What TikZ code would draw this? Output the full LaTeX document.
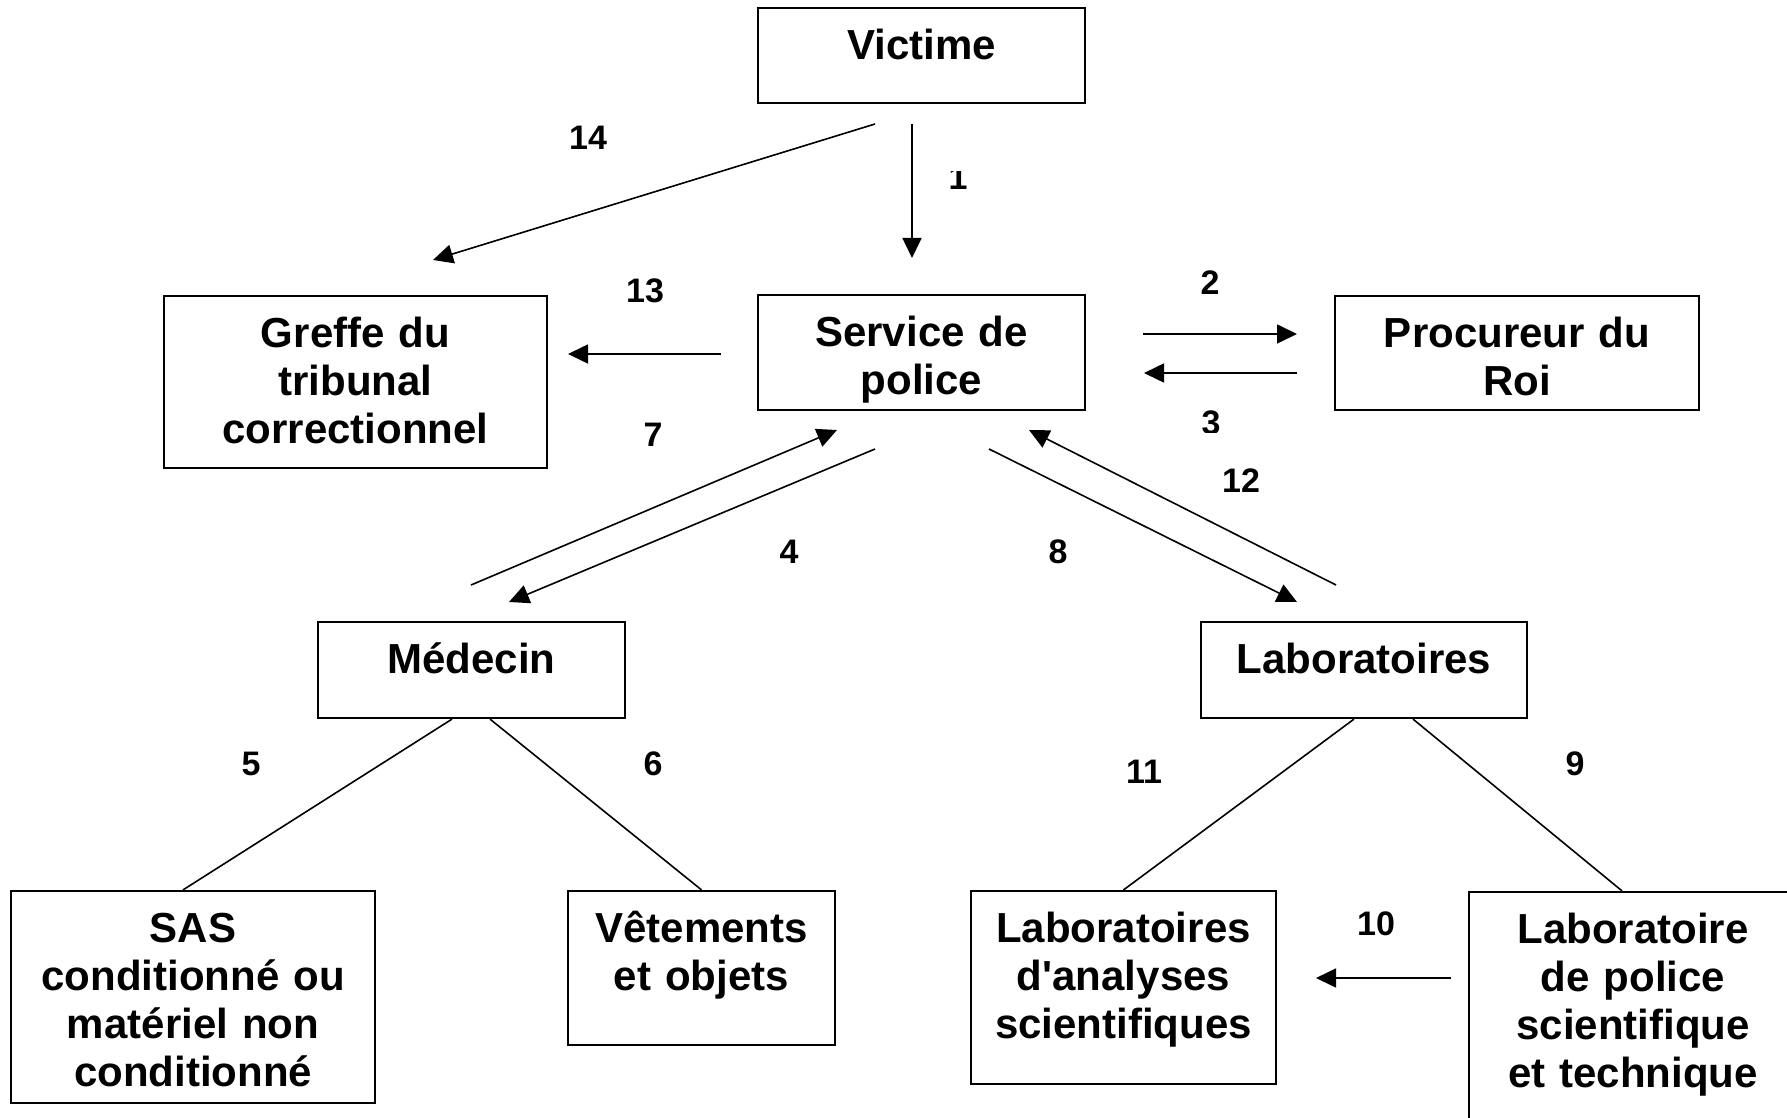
\documentclass[tikz,border=0pt]{standalone}
\usepackage{fontspec}
\setmainfont{Liberation Sans}
\usetikzlibrary{arrows.meta,calc}

\begin{document}
\begin{tikzpicture}[x=0.5pt,y=-0.5pt,
	box/.style={rectangle, draw, line width=1.1pt, inner sep=0pt},
	txt/.style={anchor=base, align=center, inner sep=0pt, font=\bfseries\fontsize{21}{24}\selectfont},
	num/.style={inner sep=0pt, font=\bfseries\fontsize{17}{20}\selectfont},
	arr/.style={-{Triangle[length=10pt,width=9.5pt]}, line width=0.8pt},
	lnk/.style={line width=0.8pt}]
	\clip (0,0) rectangle (1787,1118);
	\node[box, minimum width=163.5pt, minimum height=47.5pt](vic) at (921.5,55.5) {};
	\node[box, minimum width=163.5pt, minimum height=57.5pt](pol) at (921.5,352.5) {};
	\node[box, minimum width=191.5pt, minimum height=86pt](gre) at (355.5,382) {};
	\node[box, minimum width=182pt, minimum height=57pt](pro) at (1517,353) {};
	\node[box, minimum width=153.5pt, minimum height=48pt](med) at (471.5,670) {};
	\node[box, minimum width=163pt, minimum height=48pt](lab) at (1364,670) {};
	\node[box, minimum width=182pt, minimum height=106pt](sas) at (193,997) {};
	\node[box, minimum width=133.5pt, minimum height=77pt](vet) at (701.5,968) {};
	\node[box, minimum width=152.5pt, minimum height=96.5pt](lan) at (1123.5,987.5) {};
	\node[box, minimum width=164pt, minimum height=124pt](lps) at (1633,1016) {};

	\node[txt, text width=160pt](vic-t) at ($(vic.north)+(0,53)$) {Victime};
	\node[txt, text width=160pt](pol-t) at ($(pol.north)+(0,53)$) {Service de\\police};
	\node[txt, text width=188pt](gre-t) at ($(gre.north)+(0,53)$) {Greffe du\\tribunal\\correctionnel};
	\node[txt, text width=178pt](pro-t) at ($(pro.north)+(0,53)$) {Procureur du\\Roi};
	\node[txt, text width=150pt](med-t) at ($(med.north)+(0,53)$) {Médecin};
	\node[txt, text width=160pt](lab-t) at ($(lab.north)+(0,53)$) {Laboratoires};
	\node[txt, text width=178pt](sas-t) at ($(sas.north)+(0,53)$) {SAS\\conditionné ou\\matériel non\\conditionné};
	\node[txt, text width=130pt](vet-t) at ($(vet.north)+(0,53)$) {Vêtements\\et objets};
	\node[txt, text width=150pt](lan-t) at ($(lan.north)+(0,53)$) {Laboratoires\\d\textquotesingle analyses\\scientifiques};
	\node[txt, text width=160pt](lps-t) at ($(lps.north)+(0,53)$) {Laboratoire\\de police\\scientifique\\et technique};

	\coordinate (a14) at (875,124);  \coordinate (b14) at (433,260);
	\coordinate (a1) at (912,124);   \coordinate (b1) at (912,258);
	\coordinate (a13) at (721,354);  \coordinate (b13) at (568,354);
	\coordinate (a2) at (1143,334);  \coordinate (b2) at (1297,334);
	\coordinate (a3) at (1297,373);  \coordinate (b3) at (1144,373);
	\coordinate (a7) at (471,585);   \coordinate (b7) at (837,430);
	\coordinate (a4) at (875,449);   \coordinate (b4) at (509,602);
	\coordinate (a8) at (989,449);   \coordinate (b8) at (1297,602);
	\coordinate (a12) at (1336,585); \coordinate (b12) at (1029,430);
	\coordinate (a10) at (1451,978); \coordinate (b10) at (1316,978);

	\draw[arr] (a14) -- (b14);
	\draw[arr] (a1) -- (b1);
	\draw[arr] (a13) -- (b13);
	\draw[arr] (a2) -- (b2);
	\draw[arr] (a3) -- (b3);
	\draw[arr] (a7) -- (b7);
	\draw[arr] (a4) -- (b4);
	\draw[arr] (a8) -- (b8);
	\draw[arr] (a12) -- (b12);
	\draw[arr] (a10) -- (b10);
	\draw[lnk] ($(med.south)+(-19.5,0)$) -- ($(sas.north)+(-10,0)$);
	\draw[lnk] ($(med.south)+(18.5,0)$) -- (vet.north);
	\draw[lnk] ($(lab.south)+(-10,0)$) -- (lan.north);
	\draw[lnk] ($(lab.south)+(49,0)$) -- ($(lps.north)+(-11,0)$);

	\node[num](n14) at (588,138) {14};
	\begin{scope}
		\clip (930,172) rectangle (990,200);
		\node[num, anchor=base](n1) at (958,190) {1};
	\end{scope}
	\node[num](n13) at (645,291) {13};
	\node[num](n2) at (1210,283) {2};
	\begin{scope}
		\clip (1180,400) rectangle (1240,432);
		\node[num, anchor=base](n3) at (1211,434) {3};
	\end{scope}
	\node[num](n7) at (653,435) {7};
	\node[num](n4) at (789,552) {4};
	\node[num](n8) at (1058,552) {8};
	\node[num](n12) at (1241,481) {12};
	\node[num](n5) at (251,764) {5};
	\node[num](n6) at (653,764) {6};
	\node[num](n11) at (1144,772) {11};
	\node[num](n9) at (1575,764) {9};
	\node[num](n10) at (1376,924) {10};
\end{tikzpicture}
\end{document}
